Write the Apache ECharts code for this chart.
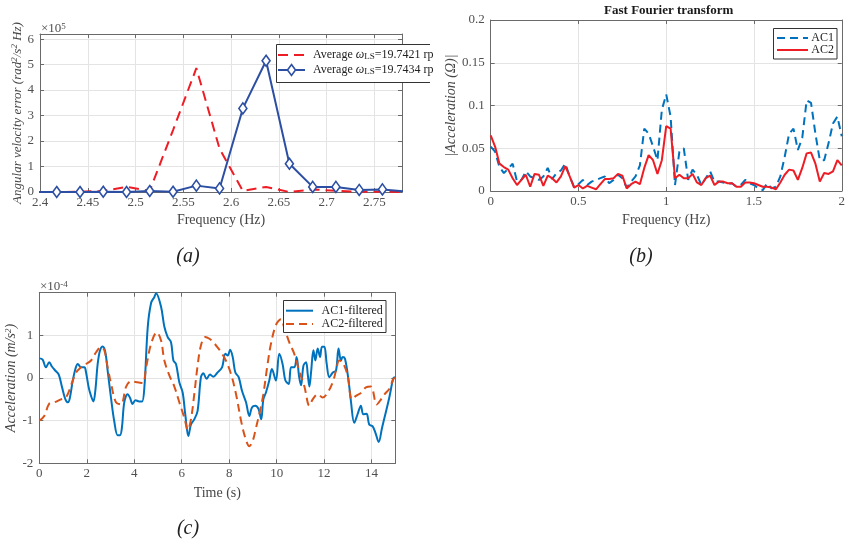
<!DOCTYPE html>
<html>
<head>
<meta charset="utf-8">
<script src="https://cdn.jsdelivr.net/npm/echarts@6/dist/echarts.min.js"></script>
<style>
  html, body { margin: 0; padding: 0; background: #fff; }
  #chart { width: 848px; height: 544px; }
</style>
</head>
<body>
<div id="chart"></div>
<script>
// ---- (a) angular velocity error spectrum, values in units of 1e5 ----
const freqA = [2.3931, 2.4175, 2.4419, 2.4662, 2.4906, 2.5149, 2.5393, 2.5637, 2.5880,
               2.6124, 2.6367, 2.6611, 2.6855, 2.7098, 2.7342, 2.7585, 2.7829];
const errLS1 = [0, 0, 0.01, 0.04, 0.2, 0.05, 2.43, 4.86, 1.7, 0.04, 0.2, 0.0, 0.1, 0.05, 0.01, 0.01, 0.0];
const errLS2 = [0, 0, 0, 0.01, 0, 0.04, 0.01, 0.25, 0.14, 3.28, 5.15, 1.11, 0.2, 0.2, 0.08, 0.1, 0.02];

// ---- (b) FFT magnitude ----
const fftFreq = [0, 0.025, 0.05, 0.075, 0.1, 0.125, 0.15, 0.175, 0.2, 0.225,
  0.25, 0.275, 0.3, 0.325, 0.35, 0.375, 0.4, 0.425, 0.45, 0.475,
  0.5, 0.525, 0.55, 0.575, 0.6, 0.625, 0.65, 0.675, 0.7, 0.725,
  0.75, 0.775, 0.8, 0.825, 0.85, 0.875, 0.9, 0.925, 0.95, 0.975,
  1.0, 1.025, 1.05, 1.075, 1.1, 1.125, 1.15, 1.175, 1.2, 1.225,
  1.25, 1.275, 1.3, 1.325, 1.35, 1.375, 1.4, 1.425, 1.45, 1.475,
  1.5, 1.525, 1.55, 1.575, 1.6, 1.625, 1.65, 1.675, 1.7, 1.725,
  1.75, 1.775, 1.8, 1.825, 1.85, 1.875, 1.9, 1.925, 1.95, 1.975, 2.0];
const fftAC1 = [0.052, 0.046, 0.028, 0.021, 0.026, 0.032, 0.011, 0.013, 0.023, 0.017,
  0.015, 0.013, 0.017, 0.027, 0.014, 0.021, 0.024, 0.032, 0.017, 0.005,
  0.008, 0.013, 0.007, 0.011, 0.013, 0.015, 0.017, 0.009, 0.013, 0.019,
  0.015, 0.004, 0.011, 0.017, 0.030, 0.073, 0.067, 0.052, 0.036, 0.095,
  0.113, 0.087, 0.007, 0.046, 0.050, 0.013, 0.025, 0.019, 0.007, 0.015,
  0.023, 0.011, 0.011, 0.010, 0.008, 0.009, 0.005, 0.007, 0.013, 0.009,
  0.007, 0.003, 0.001, 0.009, 0.003, 0.005, 0.017, 0.040, 0.067, 0.073,
  0.048, 0.062, 0.106, 0.103, 0.067, 0.036, 0.036, 0.056, 0.079, 0.087, 0.064];
const fftAC2 = [0.065, 0.052, 0.032, 0.028, 0.025, 0.015, 0.007, 0.013, 0.019, 0.005,
  0.020, 0.019, 0.006, 0.018, 0.015, 0.010, 0.017, 0.029, 0.017, 0.004,
  0.007, 0.003, 0.006, 0.004, 0.002, 0.008, 0.014, 0.014, 0.015, 0.020,
  0.018, 0.003, 0.008, 0.011, 0.008, 0.027, 0.042, 0.036, 0.020, 0.036,
  0.076, 0.073, 0.015, 0.019, 0.015, 0.015, 0.020, 0.010, 0.007, 0.015,
  0.018, 0.007, 0.011, 0.011, 0.009, 0.009, 0.005, 0.005, 0.010, 0.010,
  0.009, 0.007, 0.005, 0.005, 0.004, 0.002, 0.010, 0.019, 0.025, 0.024,
  0.013, 0.027, 0.044, 0.045, 0.032, 0.011, 0.021, 0.020, 0.023, 0.036, 0.030];

// ---- (c) filtered acceleration, values in units of 1e-4 m/s^2 ----
const timeAC1 = [0, 0.14, 0.28, 0.42, 0.53, 0.68, 0.82, 0.96, 1.1, 1.21, 1.29, 1.41, 1.52, 1.62, 1.76, 1.9, 1.97,
  2.08, 2.18, 2.28, 2.36, 2.46, 2.56, 2.67, 2.78, 2.88, 3.02, 3.16, 3.3, 3.4, 3.48, 3.58, 3.72, 3.82, 3.93,
  4.05, 4.21, 4.33, 4.43, 4.57, 4.71, 4.85, 4.92, 5.13, 5.27, 5.41, 5.55, 5.65, 5.76, 5.9, 6.04, 6.15, 6.28,
  6.39, 6.53, 6.67, 6.81, 6.91, 7.05, 7.19, 7.33, 7.51, 7.7, 7.84, 7.94, 8.04, 8.15, 8.26, 8.4, 8.54, 8.71,
  8.85, 8.96, 9.1, 9.24, 9.35, 9.44, 9.55, 9.69, 9.8, 9.97, 10.11, 10.25, 10.37, 10.51, 10.61, 10.75, 10.84,
  10.95, 11.03, 11.13, 11.24, 11.31, 11.38, 11.45, 11.55, 11.63, 11.73, 11.83, 11.91, 12.01, 12.11, 12.22,
  12.37, 12.5, 12.61, 12.71, 12.78, 12.88, 13.03, 13.13, 13.27, 13.41, 13.55, 13.65, 13.79, 13.9, 14.04,
  14.16, 14.3, 14.44, 14.58, 14.75, 14.92, 15];
const accAC1 = [0.46, 0.43, 0.25, 0.37, 0.27, 0.17, 0.08, -0.22, -0.50, -0.57, -0.46, -0.06, 0.21, 0.33, 0.25, 0.25, 0.13,
  -0.22, -0.42, -0.55, -0.30, 0.33, 0.65, 0.74, 0.61, 0.17, -0.46, -1.02, -1.34, -1.34, -1.17, -0.57, -0.38, -0.46, -0.61,
  -0.52, -0.55, -0.55, -0.2, 1.2, 1.76, 1.9, 1.99, 1.67, 1.2, 0.96, 0.84, 0.41, 0.33, -0.10, -0.34, -0.85, -1.36,
  -1.09, -0.97, -0.77, 0.02, 0.11, -0.02, 0.08, 0.03, 0.13, 0.25, 0.57, 0.53, 0.66, 0.49, 0.13, 0.02, -0.30, -0.57,
  -0.89, -0.69, -0.65, -0.73, -0.97, -0.5, -0.34, -0.06, 0.21, -0.06, 0.57, 0.33, -0.06, -0.14, 0.25, 0.25, 0.49,
  0.02, -0.17, 0.29, 0.37, 0.09, -0.20, 0.13, 0.65, 0.41, 0.69, 0.49, 0.73, 0.73, 0.33, 0.02,
  0.13, 0.17, 0.69, 0.41, 0.49, 0.45, -0.06, -0.54, -1.05, -0.85, -0.65, -0.85, -0.84, -1.09, -1.13,
  -1.28, -1.50, -1.17, -0.85, -0.45, 0.0, 0.02];
const timeAC2 = [0, 0.21, 0.42, 0.63, 0.91, 1.13, 1.41, 1.55, 1.76, 1.97, 2.18, 2.4, 2.6, 2.74, 2.88, 3.05, 3.23,
  3.44, 3.66, 3.86, 4.14, 4.36, 4.5, 4.71, 4.95, 5.13, 5.27, 5.48, 5.69, 5.9, 6.11, 6.26, 6.39, 6.53, 6.67,
  6.81, 6.99, 7.17, 7.33, 7.51, 7.65, 7.86, 8.08, 8.29, 8.5, 8.68, 8.85, 8.99, 9.13, 9.3, 9.44, 9.62, 9.76,
  9.97, 10.18, 10.32, 10.53, 10.74, 10.95, 11.17, 11.38, 11.52, 11.73, 11.94, 12.15, 12.37, 12.5, 12.64,
  12.78, 12.99, 13.17, 13.34, 13.55, 13.76, 13.97, 14.22, 14.4, 14.55, 14.75, 14.92, 15];
const accAC2 = [-1.0, -0.89, -0.6, -0.57, -0.5, -0.45, -0.06, 0.13, 0.25, 0.33, 0.41, 0.61, 0.73, 0.65, 0.25, -0.2, -0.57,
  -0.62, -0.2, -0.08, -0.1, -0.12, 0.25, 0.8, 1.07, 0.88, 0.41, 0.06, -0.2, -0.57, -0.93, -1.22, -0.97, -0.38, 0.29,
  0.76, 0.96, 0.92, 0.84, 0.72, 0.61, 0.41, 0.09, -0.38, -1.0, -1.40, -1.6, -1.48, -1.17, -0.77, -0.38, 0.33, 0.8,
  1.24, 1.38, 1.18, 0.84, 0.57, 0.17, -0.2, -0.65, -0.5, -0.38, -0.46, -0.34, -0.09, 0.17, 0.41,
  0.37, 0.06, -0.5, -0.42, -0.35, -0.22, -0.2, -0.62, -0.5, -0.38, -0.25, -0.02, 0.0];

// ---- styling ----
const SERIF = '"Liberation Serif", "Times New Roman", serif';
const AXIS = '#6a6a6a';
const GRIDC = '#e4e4e4';
const TXT = '#505050';
const RED = '#ee1c24';
const NAVY = '#2c4fa3';
const MBLUE = '#0072bd';
const MORANGE = '#d95319';

const pairs = (xs, ys) => xs.map((x, i) => [x, ys[i]]);

// label only the regular ticks, hide extent ends that fall between them
function tickFmt(step, digits) {
  return function (v) {
    const k = v / step;
    if (Math.abs(k - Math.round(k)) > 1e-6) return '';
    return String(+v.toFixed(digits));
  };
}

function mainX(grid, min, max, interval, fmt, name, nameGap) {
  return {
    type: 'value', gridIndex: grid, min, max, interval, position: 'bottom',
    axisLine: { show: true, onZero: false, lineStyle: { color: AXIS, width: 1 } },
    axisTick: { show: true, inside: true, length: 4, lineStyle: { color: AXIS } },
    axisLabel: { color: TXT, fontFamily: SERIF, fontSize: 13, margin: 4, formatter: fmt },
    splitLine: { show: true, lineStyle: { color: GRIDC, width: 1 } },
    name, nameLocation: 'middle', nameGap,
    nameTextStyle: { color: '#454545', fontFamily: SERIF, fontSize: 14 }
  };
}
function mirrorX(grid, min, max, interval) {
  return {
    type: 'value', gridIndex: grid, min, max, interval, position: 'top',
    axisLine: { show: true, onZero: false, lineStyle: { color: AXIS, width: 1 } },
    axisTick: { show: true, inside: true, length: 4, lineStyle: { color: AXIS } },
    axisLabel: { show: false }, splitLine: { show: false }
  };
}
function mainY(grid, min, max, interval, fmt, name, nameGap, rich) {
  return {
    type: 'value', gridIndex: grid, min, max, interval, position: 'left',
    axisLine: { show: true, onZero: false, lineStyle: { color: AXIS, width: 1 } },
    axisTick: { show: true, inside: true, length: 4, lineStyle: { color: AXIS } },
    axisLabel: { color: TXT, fontFamily: SERIF, fontSize: 13, margin: 6, formatter: fmt },
    splitLine: { show: true, lineStyle: { color: GRIDC, width: 1 } },
    name, nameLocation: 'middle', nameGap, nameRotate: 90,
    nameTextStyle: { color: '#454545', fontFamily: SERIF, fontSize: 14, fontStyle: 'italic', rich }
  };
}
function mirrorY(grid, min, max, interval) {
  return {
    type: 'value', gridIndex: grid, min, max, interval, position: 'right',
    axisLine: { show: true, onZero: false, lineStyle: { color: AXIS, width: 1 } },
    axisTick: { show: true, inside: true, length: 4, lineStyle: { color: AXIS } },
    axisLabel: { show: false }, splitLine: { show: false }
  };
}

const supRich = {
  t: { fontFamily: SERIF, fontSize: 13, fontStyle: 'italic', color: '#454545' },
  s: { fontFamily: SERIF, fontSize: 9, fontStyle: 'italic', color: '#454545', verticalAlign: 'top' }
};

const chart = echarts.init(document.getElementById('chart'), null, { renderer: 'canvas' });

const legendFont = { fontFamily: SERIF, fontSize: 12, fill: '#222' };
const omegaRich = {
  w: { fontFamily: SERIF, fontSize: 12, fontStyle: 'italic', fill: '#222' },
  sub: { fontFamily: SERIF, fontSize: 9, fill: '#222', verticalAlign: 'bottom' }
};
const captionStyle = { textAlign: 'center', verticalAlign: 'middle', fontFamily: SERIF, fontSize: 20, fontStyle: 'italic', fill: '#222' };

const option = {
  animation: false,
  backgroundColor: '#fff',
  grid: [
    { left: 40, top: 34, width: 362, height: 158 },
    { left: 490.7, top: 20, width: 356, height: 171 },
    { left: 39.3, top: 292.7, width: 356, height: 170.6 }
  ],
  xAxis: [
    mainX(0, 2.4, 2.779, 0.05, tickFmt(0.05, 2), 'Frequency (Hz)', 21),
    mirrorX(0, 2.4, 2.779, 0.05),
    mainX(1, 0, 2, 0.5, tickFmt(0.5, 1), 'Frequency (Hz)', 22),
    mirrorX(1, 0, 2, 0.5),
    mainX(2, 0, 15, 2, tickFmt(2, 0), 'Time (s)', 23),
    mirrorX(2, 0, 15, 2)
  ],
  yAxis: [
    mainY(0, 0, 6.2, 1, tickFmt(1, 0),
      '{t|Angular velocity error (rad}{s|2}{t|/s}{s|2}{t| Hz)}', 13, supRich),
    mirrorY(0, 0, 6.2, 1),
    mainY(1, 0, 0.2, 0.05, tickFmt(0.05, 2), '|Acceleration (Ω)|', 31),
    mirrorY(1, 0, 0.2, 0.05),
    mainY(2, -2, 2, 1, v => (v >= 2 ? '' : tickFmt(1, 0)(v)),
      '{t|Acceleration (m/s}{s|2}{t|)}', 16,
      { t: Object.assign({}, supRich.t, { fontSize: 14 }), s: supRich.s }),
    mirrorY(2, -2, 2, 1)
  ],
  series: [
    {
      type: 'line', xAxisIndex: 0, yAxisIndex: 0, data: pairs(freqA, errLS1),
      symbol: 'none', clip: true, z: 3,
      lineStyle: { color: RED, width: 2, type: [10, 6] }
    },
    {
      type: 'line', xAxisIndex: 0, yAxisIndex: 0, data: pairs(freqA, errLS2),
      symbol: 'diamond', symbolSize: [8, 11], showAllSymbol: true, clip: true, z: 4,
      itemStyle: { color: '#ffffff', borderColor: NAVY, borderWidth: 1.6 },
      lineStyle: { color: NAVY, width: 2 }
    },
    {
      type: 'line', xAxisIndex: 2, yAxisIndex: 2, data: pairs(fftFreq, fftAC1),
      symbol: 'none', clip: true, z: 3,
      lineStyle: { color: MBLUE, width: 2, type: [8, 5] }
    },
    {
      type: 'line', xAxisIndex: 2, yAxisIndex: 2, data: pairs(fftFreq, fftAC2),
      symbol: 'none', clip: true, z: 4,
      lineStyle: { color: RED, width: 2 }
    },
    {
      type: 'line', xAxisIndex: 4, yAxisIndex: 4, data: pairs(timeAC1, accAC1),
      symbol: 'none', clip: true, smooth: 0.35, z: 3,
      lineStyle: { color: MBLUE, width: 2 }
    },
    {
      type: 'line', xAxisIndex: 4, yAxisIndex: 4, data: pairs(timeAC2, accAC2),
      symbol: 'none', clip: true, smooth: 0.35, z: 4,
      lineStyle: { color: MORANGE, width: 2, type: [8, 5] }
    }
  ],
  graphic: [
    // exponent labels
    {
      type: 'text', x: 41, y: 28.5, z: 10,
      style: {
        text: '{b|×10}{s|5}', verticalAlign: 'middle',
        rich: { b: { fontFamily: SERIF, fontSize: 13, fill: TXT }, s: { fontFamily: SERIF, fontSize: 9, fill: TXT, verticalAlign: 'top' } }
      }
    },
    {
      type: 'text', x: 40, y: 287, z: 10,
      style: {
        text: '{b|×10}{s|-4}', verticalAlign: 'middle',
        rich: { b: { fontFamily: SERIF, fontSize: 13, fill: TXT }, s: { fontFamily: SERIF, fontSize: 9, fill: TXT, verticalAlign: 'top' } }
      }
    },
    // title of (b)
    {
      type: 'text', x: 668.7, y: 11, z: 10,
      style: { text: 'Fast Fourier transform', textAlign: 'center', verticalAlign: 'middle',
               fontFamily: SERIF, fontSize: 13, fontWeight: 'bold', fill: '#1a1a1a' }
    },
    // legend of (a), its right side runs off the panel edge
    { type: 'rect', z: 20, shape: { x: 276, y: 44, width: 154, height: 39 }, style: { fill: '#fff' } },
    { type: 'polyline', z: 21, shape: { points: [[430, 44.5], [276.5, 44.5], [276.5, 82.5], [430, 82.5]] },
      style: { stroke: '#333', lineWidth: 1, fill: null } },
    { type: 'line', z: 21, shape: { x1: 278, y1: 55, x2: 305, y2: 55 }, style: { stroke: RED, lineWidth: 2, lineDash: [10, 6] } },
    { type: 'line', z: 21, shape: { x1: 278, y1: 70, x2: 305, y2: 70 }, style: { stroke: NAVY, lineWidth: 2 } },
    { type: 'polygon', z: 22, shape: { points: [[291.5, 64.5], [295.5, 70], [291.5, 75.5], [287.5, 70]] },
      style: { fill: '#fff', stroke: NAVY, lineWidth: 1.6 } },
    {
      type: 'text', x: 313, y: 55, z: 22,
      style: {
        text: 'Average {w|ω}{sub|LS}=19.7421 rp', verticalAlign: 'middle',
        fontFamily: SERIF, fontSize: 12, fill: '#222', rich: omegaRich
      }
    },
    {
      type: 'text', x: 313, y: 70, z: 22,
      style: {
        text: 'Average {w|ω}{sub|LS}=19.7434 rp', verticalAlign: 'middle',
        fontFamily: SERIF, fontSize: 12, fill: '#222', rich: omegaRich
      }
    },
    // legend of (b)
    { type: 'rect', z: 20, shape: { x: 773.5, y: 28.5, width: 63.5, height: 30.5 }, style: { fill: '#fff', stroke: '#333', lineWidth: 1 } },
    { type: 'line', z: 21, shape: { x1: 777, y1: 38, x2: 808, y2: 38 }, style: { stroke: MBLUE, lineWidth: 2, lineDash: [8, 5] } },
    { type: 'line', z: 21, shape: { x1: 777, y1: 50, x2: 808, y2: 50 }, style: { stroke: RED, lineWidth: 2 } },
    { type: 'text', z: 21, x: 834, y: 38, style: Object.assign({ text: 'AC1', textAlign: 'right', verticalAlign: 'middle' }, legendFont) },
    { type: 'text', z: 21, x: 834, y: 50, style: Object.assign({ text: 'AC2', textAlign: 'right', verticalAlign: 'middle' }, legendFont) },
    // legend of (c)
    { type: 'rect', z: 20, shape: { x: 283.5, y: 300.5, width: 102.5, height: 32 }, style: { fill: '#fff', stroke: '#333', lineWidth: 1 } },
    { type: 'line', z: 21, shape: { x1: 286, y1: 310.7, x2: 313, y2: 310.7 }, style: { stroke: MBLUE, lineWidth: 2 } },
    { type: 'line', z: 21, shape: { x1: 286, y1: 324, x2: 313, y2: 324 }, style: { stroke: MORANGE, lineWidth: 2, lineDash: [8, 5] } },
    { type: 'text', z: 21, x: 321.5, y: 310.7, style: Object.assign({ text: 'AC1-filtered', verticalAlign: 'middle' }, legendFont) },
    { type: 'text', z: 21, x: 321.5, y: 324, style: Object.assign({ text: 'AC2-filtered', verticalAlign: 'middle' }, legendFont) },
    // panel captions
    { type: 'text', x: 188, y: 256.5, style: Object.assign({ text: '(a)' }, captionStyle) },
    { type: 'text', x: 641, y: 256.5, style: Object.assign({ text: '(b)' }, captionStyle) },
    { type: 'text', x: 188, y: 529, style: Object.assign({ text: '(c)' }, captionStyle) }
  ]
};

chart.setOption(option);
</script>
</body>
</html>
